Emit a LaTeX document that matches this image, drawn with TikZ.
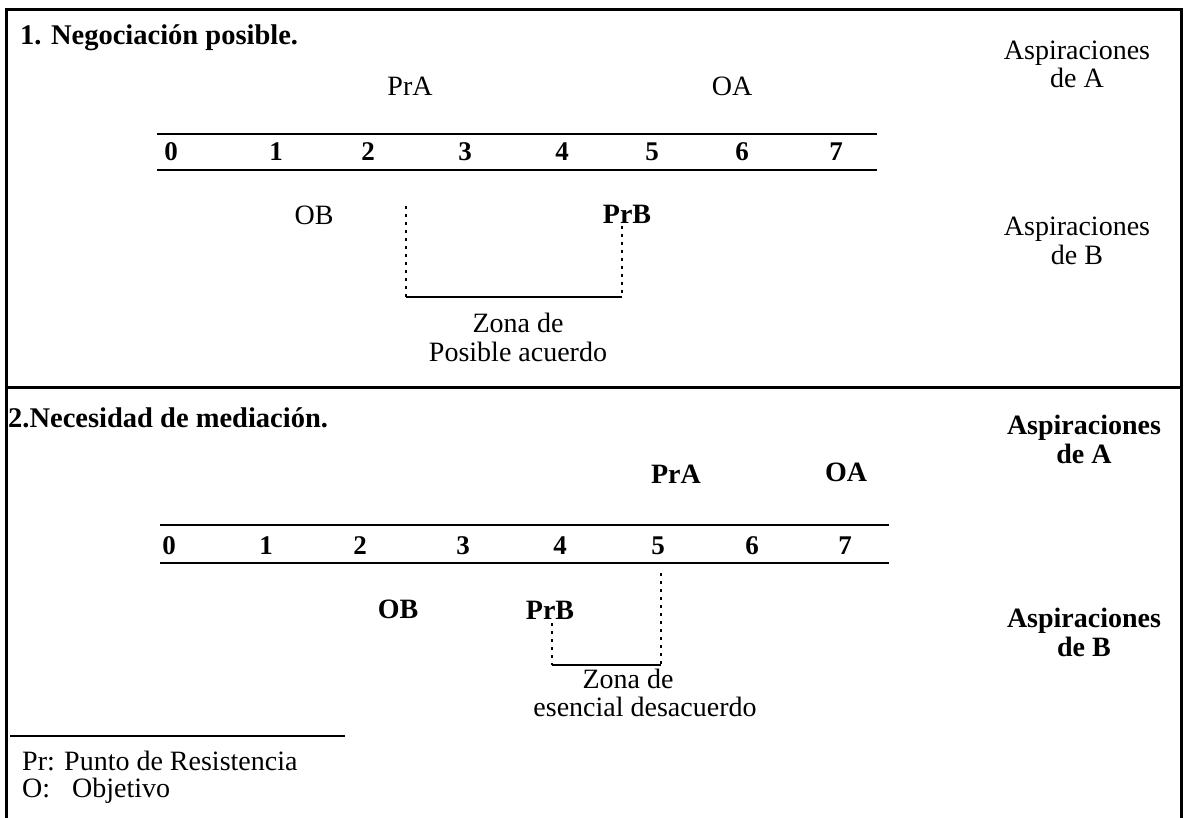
\documentclass[tikz,border=0pt]{standalone}
\usepackage{fontspec}
\setmainfont{Liberation Serif}
\begin{document}
\begin{tikzpicture}[x=1pt,y=-1pt,
  lbl/.style={anchor=base,inner sep=0pt,font=\fontsize{28}{30}\selectfont},
  blbl/.style={anchor=base,inner sep=0pt,font=\fontsize{28}{30}\selectfont\bfseries},
  num/.style={anchor=base,inner sep=0pt,font=\fontsize{27}{29}\selectfont\bfseries},
  ttl/.style={anchor=base west,inner sep=0pt,font=\fontsize{28.5}{30}\selectfont\bfseries},
  frame/.style={line width=3pt},
  scaleline/.style={line width=2.4pt},
  zoneline/.style={line width=2pt},
  dotline/.style={line width=2.6pt,dash pattern=on 2.6pt off 5.4pt}]
\useasboundingbox (0,0) rectangle (1184,818);
% frame
\coordinate (tl) at (6,10);
\coordinate (tr) at (1181,10);
\coordinate (bl) at (6,818);
\coordinate (br) at (1181,818);
\coordinate (dl) at (6,388);
\coordinate (dr) at (1181,388);
\draw[frame] (bl) -- (tl) -- (tr) -- (br);
\draw[frame] (dl) -- (dr);

% ---------- panel 1
\node[ttl] (t1) at (20,45) {1. Negociación posible.};
\node[lbl] (a1a) at (1077,60) {Aspiraciones};
\node[lbl] (a1b) at (1077,88) {de A};
\node[lbl] (b1a) at (1077,236) {Aspiraciones};
\node[lbl] (b1b) at (1077,265) {de B};
\node[lbl] (pra1) at (410,96) {PrA};
\node[lbl] (oa1) at (732,96) {OA};
\coordinate (s1a) at (157,134);
\coordinate (s1b) at (877,134);
\coordinate (s1c) at (157,170);
\coordinate (s1d) at (877,170);
\draw[scaleline] (s1a) -- (s1b);
\draw[scaleline] (s1c) -- (s1d);
\foreach \n/\x in {0/171,1/276,2/368,3/465,4/562,5/652,6/742,7/836}
  \node[num] (p1n\n) at (\x,161) {\n};
\node[lbl] (ob1) at (314,225) {OB};
\node[blbl] (prb1) at (627,224) {PrB};
\coordinate (z1a) at (406,206);
\coordinate (z1b) at (406,297);
\coordinate (z1c) at (622,297);
\coordinate (z1d) at (622,226);
\draw[dotline] (z1a) -- (z1b);
\draw[dotline] (z1d) -- (z1c);
\draw[zoneline] (z1b) -- (z1c);
\node[lbl] (zn1a) at (518,333) {Zona de};
\node[lbl] (zn1b) at (518,362) {Posible acuerdo};

% ---------- panel 2
\node[ttl] (t2) at (8,428) {2.Necesidad de mediación.};
\node[blbl] (a2a) at (1084,435) {Aspiraciones};
\node[blbl] (a2b) at (1084,463) {de A};
\node[blbl] (b2a) at (1084,627) {Aspiraciones};
\node[blbl] (b2b) at (1084,656) {de B};
\node[blbl] (pra2) at (676,483) {PrA};
\node[blbl] (oa2) at (846,481) {OA};
\coordinate (s2a) at (160,525);
\coordinate (s2b) at (889,525);
\coordinate (s2c) at (160,563);
\coordinate (s2d) at (889,563);
\draw[scaleline] (s2a) -- (s2b);
\draw[scaleline] (s2c) -- (s2d);
\foreach \n/\x in {0/169,1/266,2/360,3/463,4/560,5/658,6/752,7/845}
  \node[num] (p2n\n) at (\x,554) {\n};
\node[blbl] (ob2) at (398,618) {OB};
\node[blbl] (prb2) at (550,619) {PrB};
\coordinate (z2a) at (552,623);
\coordinate (z2b) at (552,665);
\coordinate (z2c) at (661,665);
\coordinate (z2d) at (661,573);
\draw[dotline] (z2a) -- (z2b);
\draw[dotline] (z2d) -- (z2c);
\draw[zoneline] (z2b) -- (z2c);
\node[lbl] (zn2a) at (628,688) {Zona de};
\node[lbl] (zn2b) at (645,716) {esencial desacuerdo};

% ---------- legend
\coordinate (lg1) at (10,736);
\coordinate (lg2) at (345,736);
\draw[zoneline] (lg1) -- (lg2);
\node[lbl,anchor=base west] (lgpr) at (22,770) {Pr: Punto de Resistencia};
\node[lbl,anchor=base west] (lgo) at (22,797) {O:};
\node[lbl,anchor=base west] (lgo2) at (72,797) {Objetivo};
\end{tikzpicture}
\end{document}
